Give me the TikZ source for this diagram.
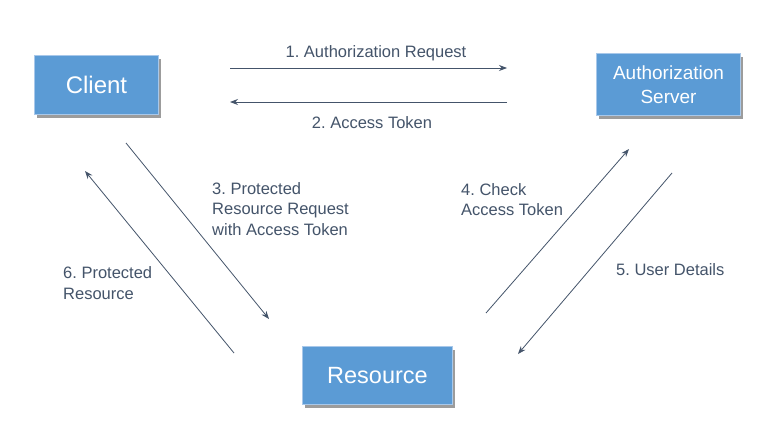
\documentclass[tikz,border=0pt]{standalone}
\usepackage{fontspec}
\setmainfont{Liberation Sans}
\usetikzlibrary{arrows.meta,shadows}
\definecolor{boxfill}{HTML}{5B9BD5}
\definecolor{boxline}{HTML}{A8C8EA}
\definecolor{txt}{HTML}{44546A}
\definecolor{arr}{HTML}{44546A}
\tikzset{
  box/.style={draw=boxline, line width=1.8pt, fill=boxfill, text=white, inner sep=0pt,
    drop shadow={shadow xshift=2.5pt, shadow yshift=-3pt, fill=black!70, opacity=0.55}},
  lbl/.style={text=txt, font=\fontsize{16.5}{20.5}\selectfont\frenchspacing, inner sep=0pt, align=left},
  conn/.style={draw=arr, line width=0.8pt, -{Stealth[length=8pt,width=6pt]}},
}
\begin{document}
\begin{tikzpicture}[x=1pt,y=-1pt]
\useasboundingbox (0,0) rectangle (776,439);
\fill[white] (0,0) rectangle (776,439);
% boxes
\node[box, minimum width=124pt, minimum height=59pt, font=\fontsize{24}{28}\selectfont] (client) at (96.5,85) {Client};
\node[box, minimum width=144pt, minimum height=62pt, font=\fontsize{19}{24}\selectfont, align=center] (auth) at (668.5,84.5) {Authorization\\Server};
\node[box, minimum width=150pt, minimum height=58pt, font=\fontsize{23.5}{28}\selectfont] (res) at (377.5,375.5) {Resource};
% connector end points
\coordinate (a1s) at (230,68);  \coordinate (a1e) at (507,68);
\coordinate (a2s) at (507,102); \coordinate (a2e) at (230,102);
\coordinate (a3s) at (126,143); \coordinate (a3e) at (269,319);
\coordinate (a6s) at (234,353); \coordinate (a6e) at (85,171);
\coordinate (a4s) at (486,313); \coordinate (a4e) at (629,149);
\coordinate (a5s) at (672,173); \coordinate (a5e) at (518,354);
\draw[conn] (a1s) -- (a1e);
\draw[conn] (a2s) -- (a2e);
\draw[conn] (a3s) -- (a3e);
\draw[conn] (a6s) -- (a6e);
\draw[conn] (a4s) -- (a4e);
\draw[conn] (a5s) -- (a5e);
% labels
\node[lbl] (l1) at (376,53) {1. Authorization Request};
\node[lbl] (l2) at (372,123) {2. Access Token};
\node[lbl, anchor=west] (l3) at (212,209) {3. Protected\\Resource Request\\with Access Token};
\node[lbl, anchor=west] (l4) at (461,199.5) {4. Check\\Access Token};
\node[lbl, anchor=west] (l5) at (616,270) {5. User Details};
\node[lbl, anchor=west] (l6) at (63,283) {6. Protected\\Resource};
\end{tikzpicture}
\end{document}
